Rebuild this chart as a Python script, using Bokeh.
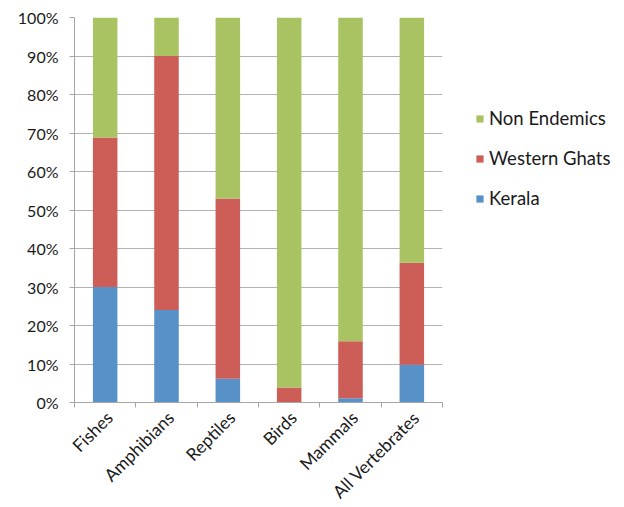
import math

from bokeh.embed import file_html
from bokeh.models import FixedTicker, Legend, LegendItem, PrintfTickFormatter, Range1d
from bokeh.plotting import figure
from bokeh.resources import INLINE

# Share of vertebrate species by endemism (percent of each group)
categories = ["Fishes", "Amphibians", "Reptiles", "Birds", "Mammals", "All Vertebrates"]
kerala = [30.0, 24.0, 6.2, 0.0, 1.1, 9.8]
western_ghats = [38.8, 66.0, 46.8, 3.9, 14.8, 26.5]
non_endemics = [31.2, 10.0, 47.0, 96.1, 84.1, 63.7]

series_names = ["Kerala", "Western Ghats", "Non Endemics"]
series_colors = ["#5891C8", "#CD5E57", "#A9C363"]
y_ticks = [0, 10, 20, 30, 40, 50, 60, 70, 80, 90, 100]

FONT = "Lato"
TEXT_COLOR = "#1a1a1a"
GRID_COLOR = "#B2B2B2"
AXIS_COLOR = "#A6A6A6"

# bars sit in the middle of each category slot; slot edges carry the tick marks
centers = [i + 0.5 for i in range(len(categories))]
edges = list(range(len(categories) + 1))
# slanted names hang from their top corner, a touch right of the slot middle
label_pos = [c + 0.07 for c in centers]

data = {
    "x": centers,
    "Kerala": kerala,
    "Western Ghats": western_ghats,
    "Non Endemics": non_endemics,
}

p = figure(
    frame_width=368,
    frame_height=385,
    min_border_left=74,
    min_border_top=17,
    min_border_bottom=105,
    min_border_right=182,
    x_range=Range1d(0, len(categories)),
    y_range=Range1d(0, 100),
    output_backend="svg",
    toolbar_location=None,
    background_fill_color="white",
    border_fill_color="white",
)
p.outline_line_color = None

renderers = p.vbar_stack(
    series_names,
    x="x",
    width=0.4,
    color=series_colors,
    line_color=None,
    source=data,
)

# horizontal gridlines every 10%
p.xgrid.visible = False
p.ygrid.ticker = FixedTicker(ticks=y_ticks)
p.ygrid.grid_line_color = GRID_COLOR
p.ygrid.grid_line_width = 1

# y axis: percentage labels with short outward ticks
yax = p.yaxis[0]
yax.ticker = FixedTicker(ticks=y_ticks)
yax.formatter = PrintfTickFormatter(format="%d%%")
yax.axis_line_color = AXIS_COLOR
yax.major_tick_line_color = AXIS_COLOR
yax.major_tick_in = 0
yax.major_tick_out = 5
yax.minor_tick_line_color = None
yax.major_label_standoff = 11
yax.major_label_text_font = FONT
yax.major_label_text_font_size = "16px"
yax.major_label_text_color = TEXT_COLOR

# x axis: category names under each slot, tick marks at slot edges
xax = p.xaxis[0]
xax.ticker = FixedTicker(ticks=label_pos, minor_ticks=edges)
xax.major_label_overrides = {pos: name for pos, name in zip(label_pos, categories)}
xax.axis_line_color = AXIS_COLOR
xax.major_tick_line_color = None
xax.minor_tick_line_color = AXIS_COLOR
xax.minor_tick_in = 0
xax.minor_tick_out = 5
xax.major_label_orientation = math.pi / 4
xax.major_label_standoff = 6
xax.major_label_text_font = FONT
xax.major_label_text_font_size = "17.5px"
xax.major_label_text_color = TEXT_COLOR

# legend in the right-hand panel, top series first
items = [LegendItem(label=name, renderers=[r]) for name, r in zip(series_names, renderers)]
legend = Legend(
    items=list(reversed(items)),
    location=(33, 193),
    orientation="vertical",
    glyph_width=9,
    glyph_height=9,
    label_standoff=5,
    label_height=20,
    spacing=18,
    padding=0,
    margin=0,
    border_line_color=None,
    background_fill_alpha=0,
    label_text_font=FONT,
    label_text_font_size="18.5px",
    label_text_color=TEXT_COLOR,
)
p.add_layout(legend, "right")

open("out.html", "w").write(file_html(p, INLINE))
